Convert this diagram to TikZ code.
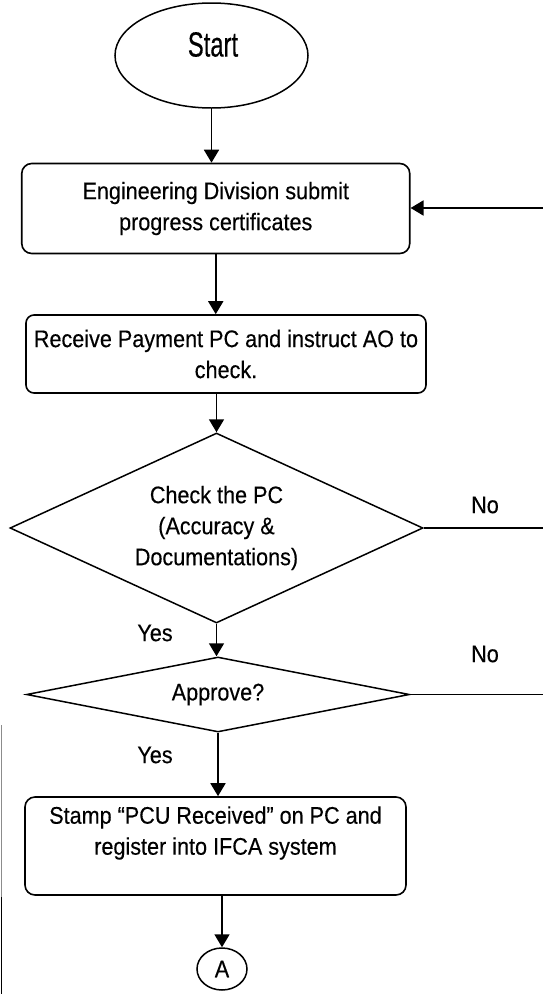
\documentclass[tikz,border=0pt]{standalone}
\usepackage{fontspec}
\setmainfont{Liberation Sans}
\newfontfamily\flowfont[FakeStretch=0.9,FakeBold=0.3]{Liberation Sans}
\newfontfamily\titlefont[FakeStretch=0.68,FakeBold=0.3]{Liberation Sans}
\usetikzlibrary{shapes.geometric,arrows.meta}

\begin{document}
\begin{tikzpicture}[x=1pt,y=-1pt,
  every node/.style={font=\flowfont\fontsize{24}{31}\selectfont},
  procbox/.style={draw, line width=1.6pt, rounded corners=10pt, inner sep=0pt, align=center},
  decision/.style={draw, diamond, line width=1.5pt, inner sep=0pt, align=center},
  terminal/.style={draw, ellipse, line width=1.5pt, inner sep=0pt},
  connector/.style={draw, ellipse, line width=1.5pt, inner sep=0pt},
  lbl/.style={inner sep=0pt},
  flow/.style={line width=1.8pt, -{Triangle[length=13pt,width=15pt]}},
  plain/.style={line width=1.7pt}]
\useasboundingbox (0,0) rectangle (543,994);

% shapes of the flow
\node[terminal, minimum width=193pt, minimum height=105pt] (start) at (211.5,55.5) {};
\node[lbl, font=\titlefont\fontsize{35}{40}\selectfont] (starttxt) at (213,44.5) {Start};
\node[procbox, minimum width=388pt, minimum height=90pt] (submit) at (215.75,208.5)
  {Engineering Division submit\\progress certificates};
\node[procbox, rounded corners=8pt, minimum width=400pt, minimum height=78pt] (receive) at (226,354)
  {Receive Payment PC and instruct AO to\\check.};
\node[decision, aspect=2.17, minimum width=413pt, minimum height=190pt] (check) at (216.5,528)
  {Check the PC\\(Accuracy \&\\Documentations)};
\node[decision, aspect=5.1, minimum width=383pt, minimum height=75pt] (approve) at (218,694.5) {Approve?};
\node[procbox, minimum width=381pt, minimum height=98pt] (stamp) at (215.5,846)
  {Stamp “PCU Received” on PC and\\register into IFCA system\\\mbox{}};
\node[connector, minimum width=50pt, minimum height=42pt] (conA) at (222,969) {A};

% branch labels
\node[lbl] (no1) at (485,505) {No};
\node[lbl] (no2) at (485,654) {No};
\node[lbl] (yes1) at (155,633) {Yes};
\node[lbl] (yes2) at (155,755) {Yes};

% loose ends running off to the right
\coordinate (loopin) at (543,208);
\coordinate (rejcheck) at (543,528);
\coordinate (rejapprove) at (543,694.5);

% connectors
\draw[flow] (start.south) -- (start.south |- submit.north);
\draw[flow] (submit.south) -- (submit.south |- receive.north);
\draw[flow] (check.north |- receive.south) -- (check.north);
\draw[flow] (check.south) -- (check.south |- approve.north);
\draw[flow] (approve.south) -- (approve.south |- stamp.north);
\draw[flow] (stamp.south) ++(6.5,0) coordinate (stampout) -- (stampout |- conA.north);
\draw[flow] (loopin) -- (loopin -| submit.east);
\draw[plain] (check.east) -- (rejcheck);
\draw[plain] (approve.east) -- (rejapprove);

% rule at the left edge
\coordinate (edgeA) at (1.5,725);
\coordinate (edgeB) at (1.5,897);
\coordinate (edgeC) at (1.5,994);
\draw[line width=1.2pt, black!45] (edgeA) -- (edgeB);
\draw[line width=1.6pt] (edgeB) -- (edgeC);
\end{tikzpicture}
\end{document}
